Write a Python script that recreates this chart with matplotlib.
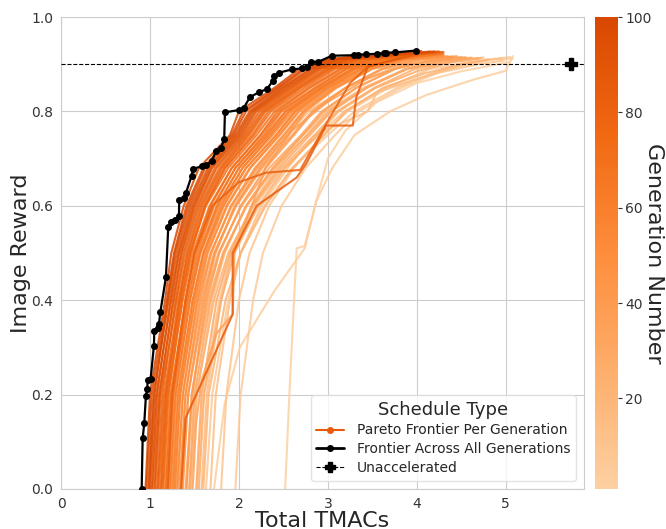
import matplotlib
matplotlib.use("Agg")
import matplotlib.pyplot as plt
import numpy as np
import seaborn as sns
from matplotlib.colors import LinearSegmentedColormap, Normalize
from matplotlib.lines import Line2D
from matplotlib.cm import ScalarMappable

# ---------------- data ----------------
gen_numbers = [1, 3, 5, 7, 9, 11, 13, 15, 17, 19,
               22, 24, 26, 28, 30, 32, 34, 36, 38, 40, 42, 44,
               46, 48, 50, 52, 54, 56, 58, 60, 62, 64, 66, 68, 70, 72, 74,
               75, 76, 78, 80, 81, 82, 84, 86, 88, 90, 92, 94, 96, 98, 100]

gen_tmacs = [
    [2.52, 2.57, 2.62, 2.65, 2.74, 2.87, 3.0, 3.2, 3.55, 4.0, 4.5, 5.05],
    [1.72, 1.84, 2.01, 2.40, 2.74, 2.87, 3.05, 3.3, 3.7, 4.11, 4.65, 5.0, 5.08],
    [1.96, 2.02, 2.16, 2.27, 2.48, 2.75, 3.08, 3.35, 3.82, 4.35, 4.85, 5.08],
    [1.63, 1.7, 1.88, 2.02, 2.28, 2.6, 3.0, 3.3, 3.78, 4.3, 4.8, 5.05],
    [1.8, 1.86, 2.0, 2.12, 2.34, 2.62, 2.95, 3.22, 3.68, 4.2, 4.7, 4.98],
    [1.53, 1.6, 1.78, 1.92, 2.18, 2.5, 2.9, 3.18, 3.65, 4.15, 4.6, 4.95],
    [1.68, 1.74, 1.9, 2.02, 2.25, 2.55, 2.85, 3.45, 3.55, 4.1, 4.55],
    [1.46, 1.53, 1.7, 1.84, 2.08, 2.38, 2.72, 2.98, 3.4, 3.88, 4.35, 4.75],
    [1.58, 1.64, 1.8, 1.92, 2.14, 2.42, 2.76, 3.0, 3.42, 3.9, 4.4, 4.7],
    [1.41, 1.48, 1.62, 1.74, 1.95, 2.22, 2.55, 2.78, 3.2, 3.7, 4.2, 4.55],
    [1.6, 1.66, 1.85, 2.02, 2.3, 2.6, 2.96, 3.2, 3.62, 4.08, 4.5, 4.8],
    [1.45, 1.52, 1.72, 1.88, 2.16, 2.48, 2.85, 3.1, 3.52, 3.98, 4.4, 4.72],
    [1.55, 1.61, 1.8, 1.95, 2.22, 2.52, 2.88, 3.12, 3.54, 4.0, 4.4, 4.7],
    [1.4, 1.47, 1.66, 1.82, 2.09, 2.4, 2.77, 3.02, 3.43, 3.88, 4.3, 4.62],
    [1.52, 1.58, 1.75, 1.9, 2.15, 2.45, 2.8, 3.04, 3.44, 3.88, 4.28, 4.6],
    [1.36, 1.43, 1.62, 1.77, 2.03, 2.34, 2.7, 2.93, 3.32, 3.76, 4.18, 4.55],
    [1.44, 1.5, 1.68, 1.83, 2.08, 2.38, 2.72, 2.95, 3.32, 3.75, 4.15, 4.5],
    [1.48, 1.52, 1.58, 1.75, 1.93, 1.95, 2.3, 2.6, 3.0, 3.45, 3.9, 4.4],
    [1.33, 1.4, 1.58, 1.72, 1.97, 2.26, 2.6, 2.82, 3.2, 3.62, 4.05, 4.45],
    [1.41, 1.47, 1.64, 1.78, 2.02, 2.3, 2.62, 2.84, 3.2, 3.6, 4.0, 4.4],
    [1.3, 1.37, 1.54, 1.68, 1.92, 2.2, 2.52, 2.73, 3.08, 3.5, 3.92, 4.35],
    [1.37, 1.43, 1.6, 1.73, 1.96, 2.24, 2.55, 2.75, 3.1, 3.5, 3.9, 4.3],
    [1.28, 1.34, 1.51, 1.64, 1.86, 2.12, 2.45, 2.66, 3.02, 3.4, 3.8, 4.2],
    [1.34, 1.4, 1.56, 1.69, 1.91, 2.18, 2.5, 2.72, 3.08, 3.46, 3.86, 4.3],
    [1.25, 1.31, 1.48, 1.6, 1.82, 2.08, 2.42, 2.63, 3.0, 3.38, 3.78, 4.25],
    [1.31, 1.37, 1.53, 1.65, 1.87, 2.13, 2.46, 2.68, 3.05, 3.44, 3.82, 4.3],
    [1.22, 1.28, 1.45, 1.57, 1.78, 2.04, 2.38, 2.6, 2.98, 3.36, 3.74, 4.2],
    [1.28, 1.34, 1.5, 1.62, 1.83, 2.08, 2.42, 2.63, 3.0, 3.38, 3.76, 4.28],
    [1.2, 1.26, 1.43, 1.55, 1.75, 2.0, 2.34, 2.56, 2.94, 3.3, 3.68, 4.1],
    [1.26, 1.32, 1.48, 1.6, 1.8, 2.04, 2.36, 2.57, 2.95, 3.32, 3.7, 4.25],
    [1.17, 1.23, 1.4, 1.51, 1.71, 1.96, 2.3, 2.52, 2.9, 3.27, 3.62, 4.15],
    [1.23, 1.29, 1.45, 1.56, 1.76, 2.0, 2.32, 2.53, 2.92, 3.28, 3.64, 4.3],
    [1.14, 1.2, 1.37, 1.48, 1.67, 1.92, 2.25, 2.46, 2.85, 3.2, 3.56, 4.05],
    [1.2, 1.26, 1.42, 1.53, 1.72, 1.96, 2.28, 2.48, 2.87, 3.22, 3.58, 4.22],
    [1.1, 1.17, 1.34, 1.45, 1.63, 1.88, 2.2, 2.4, 2.78, 3.13, 3.48, 3.9],
    [1.18, 1.24, 1.4, 1.5, 1.68, 1.92, 2.24, 2.43, 2.8, 3.16, 3.5, 4.28],
    [1.13, 1.19, 1.35, 1.45, 1.62, 1.85, 2.17, 2.36, 2.74, 3.08, 3.43, 4.1],
    [1.09, 1.16, 1.32, 1.43, 1.6, 1.82, 2.12, 2.3, 2.68, 3.02, 3.35, 3.8],
    [1.15, 1.21, 1.36, 1.46, 1.62, 1.84, 2.15, 2.33, 2.7, 3.05, 3.38, 4.2],
    [1.06, 1.12, 1.3, 1.4, 1.56, 1.78, 2.08, 2.26, 2.63, 2.97, 3.28, 3.95],
    [1.12, 1.18, 1.33, 1.42, 1.58, 1.8, 2.1, 2.28, 2.66, 3.0, 3.32, 4.3],
    [1.2, 1.25, 1.4, 1.5, 1.7, 2.0, 2.3, 2.69, 3.0, 3.25, 3.45, 4.0],
    [1.03, 1.1, 1.27, 1.36, 1.52, 1.73, 2.04, 2.2, 2.58, 2.9, 3.22, 3.85],
    [1.08, 1.14, 1.29, 1.38, 1.54, 1.75, 2.06, 2.23, 2.6, 2.93, 3.25, 4.15],
    [1.35, 1.4, 1.93, 1.93, 2.2, 2.65, 2.76, 2.98, 3.28, 3.32, 3.45, 3.95],
    [1.0, 1.07, 1.24, 1.33, 1.49, 1.69, 2.0, 2.16, 2.53, 2.85, 3.15, 3.7],
    [1.05, 1.11, 1.26, 1.35, 1.5, 1.7, 2.02, 2.18, 2.55, 2.88, 3.2, 4.25],
    [0.98, 1.04, 1.21, 1.3, 1.45, 1.65, 1.96, 2.12, 2.48, 2.8, 3.1, 3.9],
    [1.02, 1.08, 1.23, 1.32, 1.47, 1.67, 1.98, 2.14, 2.5, 2.82, 3.12, 4.05],
    [0.96, 1.02, 1.19, 1.27, 1.41, 1.6, 1.92, 2.05, 2.43, 2.72, 3.02, 3.6],
    [0.99, 1.05, 1.2, 1.28, 1.43, 1.62, 1.94, 2.08, 2.45, 2.75, 3.05, 4.2],
    [0.95, 1.0, 1.17, 1.24, 1.38, 1.55, 1.9, 2.0, 2.4, 2.68, 2.98, 3.8],
]

gen_reward = [
    [0, 0.21, 0.4, 0.51, 0.515, 0.61, 0.7, 0.76, 0.82, 0.86, 0.885, 0.905],
    [0, 0.18, 0.30, 0.42, 0.51, 0.61, 0.68, 0.75, 0.8, 0.835, 0.868, 0.886, 0.917],
    [0, 0.2, 0.4, 0.5, 0.6, 0.68, 0.75, 0.8, 0.85, 0.89, 0.91, 0.912],
    [0, 0.2, 0.4, 0.5, 0.6, 0.68, 0.75, 0.8, 0.85, 0.89, 0.91, 0.915],
    [0, 0.2, 0.4, 0.5, 0.6, 0.68, 0.75, 0.8, 0.85, 0.88, 0.9, 0.908],
    [0, 0.2, 0.4, 0.5, 0.6, 0.68, 0.75, 0.8, 0.85, 0.89, 0.905, 0.912],
    [0, 0.2, 0.4, 0.5, 0.6, 0.68, 0.75, 0.8, 0.84, 0.875, 0.9],
    [0, 0.2, 0.4, 0.5, 0.6, 0.68, 0.75, 0.8, 0.85, 0.89, 0.908, 0.914],
    [0, 0.2, 0.4, 0.5, 0.6, 0.68, 0.75, 0.8, 0.85, 0.89, 0.905, 0.913],
    [0, 0.2, 0.4, 0.5, 0.6, 0.68, 0.75, 0.8, 0.85, 0.89, 0.908, 0.915],
    [0, 0.2, 0.4, 0.5, 0.6, 0.68, 0.75, 0.8, 0.85, 0.88, 0.9, 0.91],
    [0, 0.2, 0.4, 0.5, 0.6, 0.68, 0.75, 0.8, 0.85, 0.89, 0.905, 0.913],
    [0, 0.2, 0.4, 0.5, 0.6, 0.68, 0.75, 0.8, 0.85, 0.885, 0.905, 0.912],
    [0, 0.2, 0.4, 0.5, 0.6, 0.68, 0.75, 0.8, 0.85, 0.89, 0.908, 0.914],
    [0, 0.2, 0.4, 0.5, 0.6, 0.68, 0.75, 0.8, 0.85, 0.89, 0.906, 0.913],
    [0, 0.2, 0.4, 0.5, 0.6, 0.68, 0.75, 0.8, 0.85, 0.89, 0.908, 0.914],
    [0, 0.2, 0.4, 0.5, 0.6, 0.68, 0.75, 0.8, 0.85, 0.89, 0.91, 0.915],
    [0, 0.14, 0.23, 0.33, 0.37, 0.5, 0.68, 0.76, 0.82, 0.87, 0.9, 0.912],
    [0, 0.2, 0.4, 0.5, 0.6, 0.68, 0.75, 0.8, 0.85, 0.89, 0.91, 0.917],
    [0, 0.2, 0.4, 0.5, 0.6, 0.68, 0.75, 0.8, 0.85, 0.89, 0.91, 0.916],
    [0, 0.2, 0.4, 0.5, 0.6, 0.68, 0.75, 0.8, 0.85, 0.89, 0.91, 0.917],
    [0, 0.2, 0.4, 0.5, 0.6, 0.68, 0.75, 0.8, 0.85, 0.89, 0.91, 0.918],
    [0, 0.2, 0.4, 0.5, 0.6, 0.68, 0.75, 0.8, 0.85, 0.89, 0.91, 0.919],
    [0, 0.2, 0.4, 0.5, 0.6, 0.68, 0.75, 0.8, 0.85, 0.89, 0.91, 0.918],
    [0, 0.2, 0.4, 0.5, 0.6, 0.68, 0.75, 0.8, 0.85, 0.89, 0.91, 0.92],
    [0, 0.2, 0.4, 0.5, 0.6, 0.68, 0.75, 0.8, 0.85, 0.89, 0.91, 0.921],
    [0, 0.2, 0.4, 0.5, 0.6, 0.68, 0.75, 0.8, 0.85, 0.89, 0.91, 0.92],
    [0, 0.2, 0.4, 0.5, 0.6, 0.68, 0.75, 0.8, 0.85, 0.89, 0.91, 0.922],
    [0, 0.2, 0.4, 0.5, 0.6, 0.68, 0.75, 0.8, 0.85, 0.89, 0.91, 0.92],
    [0, 0.2, 0.4, 0.5, 0.6, 0.68, 0.75, 0.8, 0.85, 0.89, 0.91, 0.921],
    [0, 0.2, 0.4, 0.5, 0.6, 0.68, 0.75, 0.8, 0.85, 0.89, 0.91, 0.922],
    [0, 0.2, 0.4, 0.5, 0.6, 0.68, 0.75, 0.8, 0.85, 0.89, 0.91, 0.923],
    [0, 0.2, 0.4, 0.5, 0.6, 0.68, 0.75, 0.8, 0.85, 0.89, 0.91, 0.922],
    [0, 0.2, 0.4, 0.5, 0.6, 0.68, 0.75, 0.8, 0.85, 0.89, 0.91, 0.924],
    [0, 0.2, 0.4, 0.5, 0.6, 0.68, 0.75, 0.8, 0.85, 0.89, 0.91, 0.921],
    [0, 0.2, 0.4, 0.5, 0.6, 0.68, 0.75, 0.8, 0.85, 0.89, 0.91, 0.925],
    [0, 0.2, 0.4, 0.5, 0.6, 0.68, 0.75, 0.8, 0.85, 0.89, 0.91, 0.924],
    [0, 0.2, 0.4, 0.5, 0.6, 0.68, 0.75, 0.8, 0.85, 0.89, 0.91, 0.922],
    [0, 0.2, 0.4, 0.5, 0.6, 0.68, 0.75, 0.8, 0.85, 0.89, 0.91, 0.925],
    [0, 0.2, 0.4, 0.5, 0.6, 0.68, 0.75, 0.8, 0.85, 0.89, 0.91, 0.925],
    [0, 0.2, 0.4, 0.5, 0.6, 0.68, 0.75, 0.8, 0.85, 0.89, 0.91, 0.926],
    [0, 0.2, 0.4, 0.5, 0.6, 0.65, 0.67, 0.676, 0.78, 0.86, 0.895, 0.92],
    [0, 0.2, 0.4, 0.5, 0.6, 0.68, 0.75, 0.8, 0.85, 0.89, 0.91, 0.924],
    [0, 0.2, 0.4, 0.5, 0.6, 0.68, 0.75, 0.8, 0.85, 0.89, 0.91, 0.927],
    [0, 0.15, 0.37, 0.5, 0.6, 0.66, 0.69, 0.77, 0.77, 0.83, 0.895, 0.92],
    [0, 0.2, 0.4, 0.5, 0.6, 0.68, 0.75, 0.8, 0.85, 0.89, 0.91, 0.922],
    [0, 0.2, 0.4, 0.5, 0.6, 0.68, 0.75, 0.8, 0.85, 0.89, 0.91, 0.927],
    [0, 0.2, 0.4, 0.5, 0.6, 0.68, 0.75, 0.8, 0.85, 0.89, 0.91, 0.926],
    [0, 0.2, 0.4, 0.5, 0.6, 0.68, 0.75, 0.8, 0.85, 0.89, 0.91, 0.928],
    [0, 0.2, 0.4, 0.5, 0.6, 0.68, 0.75, 0.8, 0.85, 0.89, 0.91, 0.923],
    [0, 0.2, 0.4, 0.5, 0.6, 0.68, 0.75, 0.8, 0.85, 0.89, 0.91, 0.927],
    [0, 0.2, 0.4, 0.5, 0.6, 0.68, 0.75, 0.8, 0.85, 0.89, 0.91, 0.926],
]

frontier_tmacs = [0.907, 0.918, 0.936, 0.955, 0.970, 0.974, 1.008, 1.045, 1.049, 1.094,
                  1.101, 1.116, 1.180, 1.206, 1.236, 1.281, 1.326, 1.329, 1.385, 1.404,
                  1.468, 1.483, 1.584, 1.626, 1.693, 1.745, 1.798, 1.835, 1.843, 2.004,
                  2.053, 2.124, 2.228, 2.315, 2.378, 2.393, 2.449, 2.599, 2.704, 2.767,
                  2.806, 2.891, 3.047, 3.292, 3.341, 3.427, 3.554, 3.629, 3.652, 3.757,
                  3.996]
frontier_reward = [0.0, 0.107, 0.139, 0.198, 0.212, 0.230, 0.234, 0.304, 0.335, 0.342,
                   0.349, 0.374, 0.449, 0.556, 0.565, 0.569, 0.578, 0.612, 0.617, 0.627,
                   0.663, 0.678, 0.684, 0.686, 0.694, 0.717, 0.722, 0.742, 0.798, 0.803,
                   0.807, 0.830, 0.841, 0.847, 0.864, 0.874, 0.882, 0.889, 0.891, 0.895,
                   0.905, 0.905, 0.918, 0.919, 0.920, 0.921, 0.922, 0.924, 0.924, 0.925,
                   0.929]

unaccel_tmacs = 5.73
unaccel_reward = 0.90

# ---------------- style ----------------
sns.set_style("whitegrid")
plt.rcParams['font.family'] = ['DejaVu Sans']

base = plt.get_cmap('Oranges')
cmap = LinearSegmentedColormap.from_list('or_trunc', base(np.linspace(0.25, 0.75, 256)))
norm = Normalize(vmin=1, vmax=100)

fig = plt.figure(figsize=(6.66, 5.29), dpi=100)
ax = fig.add_axes([61/666, 40/529, 523/666, 472/529])
cax = fig.add_axes([595/666, 40/529, 23/666, 472/529])

for g, xs, ys in zip(gen_numbers, gen_tmacs, gen_reward):
    ax.plot(xs, ys, color=cmap(norm(g)), lw=1.5, alpha=0.85, zorder=2)

ax.plot(frontier_tmacs, frontier_reward, color='black', lw=1.6, marker='o',
        markersize=4, zorder=4)

ax.axhline(unaccel_reward, color='black', lw=0.8, ls='--', zorder=3)
ax.plot([unaccel_tmacs], [unaccel_reward], marker='P', color='black',
        markersize=8, zorder=5)

ax.set_xlim(0, 5.88)
ax.set_ylim(0, 1.0)
ax.set_xticks([0, 1, 2, 3, 4, 5])
ax.set_yticks([0.0, 0.2, 0.4, 0.6, 0.8, 1.0])
ax.tick_params(labelsize=10, colors='#333333', pad=2)
ax.set_xlabel('Total TMACs', fontsize=16, color='#262626', labelpad=0)
ax.set_ylabel('Image Reward', fontsize=16, color='#262626', labelpad=0)
for s in ax.spines.values():
    s.set_color('#cccccc')

handles = [
    Line2D([0], [0], color=cmap(0.85), marker='o', markersize=4, lw=1.5),
    Line2D([0], [0], color='black', marker='o', markersize=4, lw=2),
    Line2D([0], [0], color='black', marker='P', markersize=7, lw=0.8, ls='--'),
]
labels = ['Pareto Frontier Per Generation', 'Frontier Across All Generations', 'Unaccelerated']
leg = ax.legend(handles, labels, title='Schedule Type', loc='lower right',
                fontsize=10, title_fontsize=13, frameon=True, borderaxespad=0.6,
                handlelength=2.0, handletextpad=0.9, labelspacing=0.35)
leg.get_frame().set_edgecolor('#dddddd')

sm = ScalarMappable(norm=norm, cmap=cmap)
cb = fig.colorbar(sm, cax=cax)
cb.set_ticks([20, 40, 60, 80, 100])
cb.outline.set_visible(False)
cax.tick_params(labelsize=10, colors='#333333', length=3, width=0.8, pad=2)
cb.set_label('Generation Number', fontsize=16, rotation=270, labelpad=9, color='#262626')

fig.savefig('out.png', dpi=100)
